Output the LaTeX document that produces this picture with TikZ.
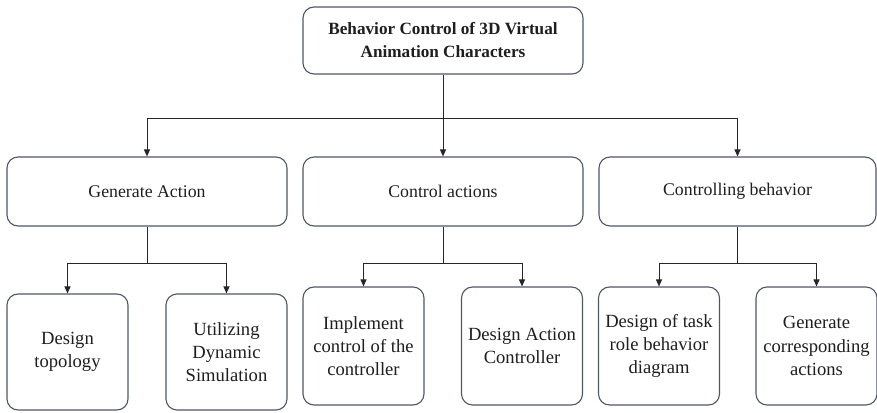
\documentclass[tikz,border=0pt]{standalone}
\usepackage{fontspec}
\setmainfont{Liberation Serif}
\usetikzlibrary{arrows.meta}
\definecolor{boxline}{HTML}{4F5666}
\definecolor{txt}{HTML}{1E1E1E}
\tikzset{
  box/.style={draw=boxline, line width=1.1pt, rounded corners=11pt, align=center,
    text=txt, inner sep=2pt, font=\fontsize{17.8}{23}\selectfont},
  topbox/.style={box, minimum width=280pt, minimum height=67pt, font=\fontsize{17.2}{23}\selectfont\bfseries},
  midbox/.style={box, minimum height=69pt},
  lowbox/.style={box, minimum width=121pt, font=\fontsize{18.6}{23.3}\selectfont},
  conn/.style={draw=black!85, line width=1pt},
  arr/.style={conn, -{Triangle[length=7pt,width=6pt]}}
}
\begin{document}
\begin{tikzpicture}[x=1pt,y=1pt]
\useasboundingbox (0,0) rectangle (877,412);
\node[topbox] (top) at (443,371.5) {Behavior Control of 3D Virtual\\Animation Characters};
\node[midbox, minimum width=280pt] (m1) at (147,220.5) {Generate Action};
\node[midbox, minimum width=280pt] (m2) at (443,220.5) {Control actions};
\node[midbox, minimum width=277pt] (m3) at (737.5,220.5) {Controlling behavior};
\node[lowbox, minimum height=116pt] (b1) at (67.5,60) {Design\\topology};
\node[lowbox, minimum height=116pt] (b2) at (226.5,60) {Utilizing\\Dynamic\\Simulation};
\node[lowbox, minimum height=118pt] (b3) at (363.5,66) {Implement\\control of the\\controller};
\node[lowbox, minimum height=118pt] (b4) at (522,66) {Design Action\\Controller};
\node[lowbox, minimum height=118pt] (b5) at (659,66) {Design of task\\role behavior\\diagram};
\node[lowbox, minimum height=118pt] (b6) at (816.5,66) {Generate\\corresponding\\actions};
\coordinate (j0) at (443,293);
\coordinate (j1) at (147,148);
\coordinate (j2) at (443,148);
\coordinate (j3) at (737.5,148);
\draw[conn] (top.south) -- (j0);
\draw[arr] (j0) -| (m1.north);
\draw[arr] (j0) -- (m2.north);
\draw[arr] (j0) -| (m3.north);
\draw[conn] (m1.south) -- (j1);
\draw[arr] (j1) -| (b1.north);
\draw[arr] (j1) -| (b2.north);
\draw[conn] (m2.south) -- (j2);
\draw[arr] (j2) -| (b3.north);
\draw[arr] (j2) -| (b4.north);
\draw[conn] (m3.south) -- (j3);
\draw[arr] (j3) -| (b5.north);
\draw[arr] (j3) -| (b6.north);
\end{tikzpicture}
\end{document}
